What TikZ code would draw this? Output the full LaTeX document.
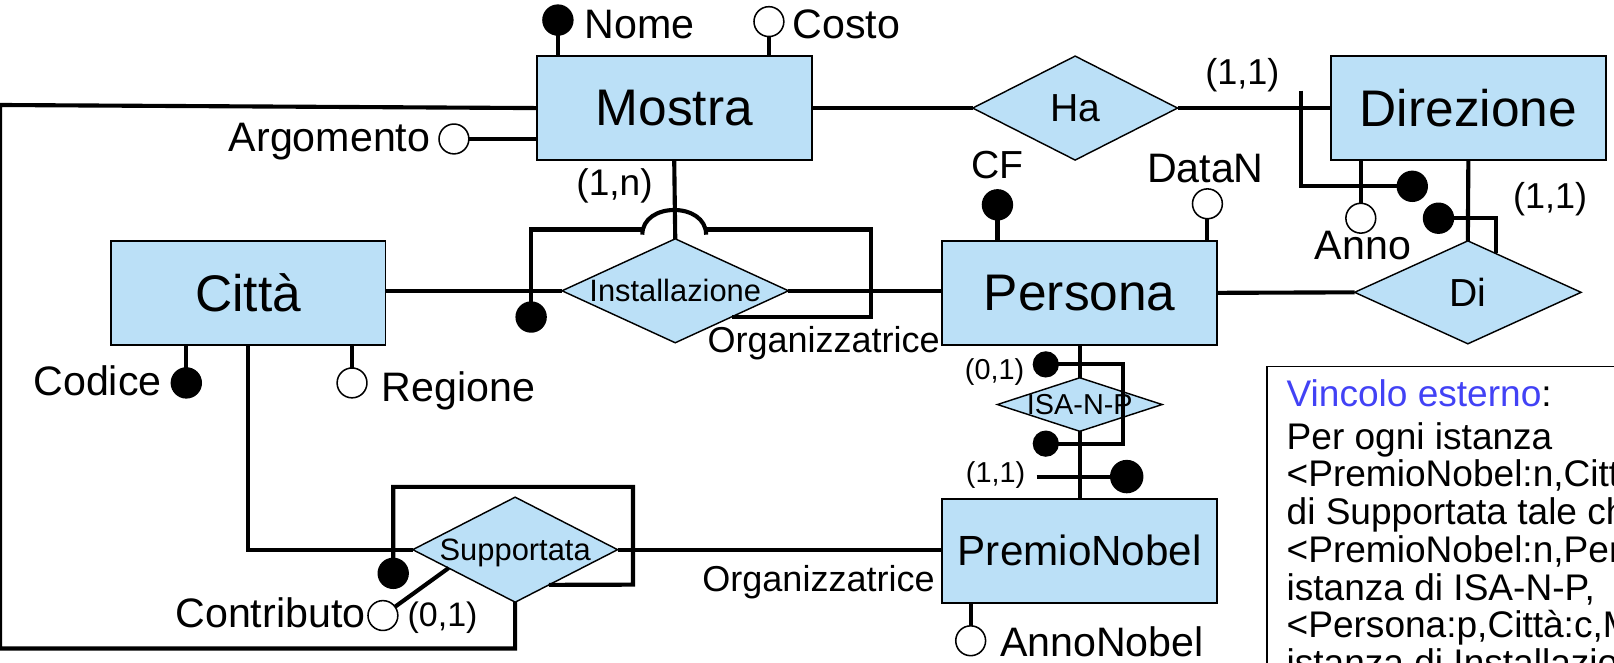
\documentclass[tikz,border=0pt]{standalone}
\usepackage{fontspec}
\setmainfont{Liberation Sans}
\usetikzlibrary{shapes.geometric,calc}
\definecolor{erfill}{RGB}{187,224,247}
\definecolor{noteblue}{RGB}{66,66,245}
\newcommand\sz[1]{\fontsize{#1pt}{#1pt}\selectfont}
\begin{document}
\begin{tikzpicture}[x=1pt,y=-1pt,
  every node/.style={inner sep=0pt,outer sep=0pt},
  link/.style={line width=4pt},
  entity/.style={draw=black,line width=1.8pt,fill=erfill,minimum width=267pt,minimum height=101pt,font=\sz{50}},
  rel/.style={diamond,draw=black,line width=1.4pt,fill=erfill,text depth=0pt},
  keydot/.style={circle,draw=black,fill=black,line width=1.5pt,minimum size=29pt},
  attdot/.style={circle,draw=black,fill=white,line width=1.5pt,minimum size=29pt},
  lbl/.style={font=\sz{40}},
  card/.style={font=\sz{35}},
  note/.style={anchor=base west,font=\sz{36}}]
\useasboundingbox (0,0) rectangle (1568,644);

% entities
\node[entity] (Mostra) at (655,105) {Mostra};
\node[entity] (Citta) at (241,284.5) {Città};
\node[entity] (Persona) at (1049,284.5) {Persona};
\node[entity,font=\sz{41}] (Nobel) at (1049,535) {PremioNobel};
\node[entity] (Dir) at (1426.5,105) {Direzione};

% relationships
\node[rel,minimum width=199pt,minimum height=101pt,font=\sz{38}] (Ha) at (1044.5,105) {\makebox[0pt]{Ha}};
\node[rel,minimum width=220pt,minimum height=100pt,font=\sz{38}] (Di) at (1426,284) {\makebox[0pt]{Di}};
\node[rel,minimum width=220pt,minimum height=101pt,font=\sz{30}] (Inst) at (656,282.5) {\makebox[0pt]{Installazione}};
\node[rel,minimum width=199pt,minimum height=102pt,font=\sz{30}] (Supp) at (500.5,534) {\makebox[0pt]{Supportata}};
\node[rel,minimum width=160pt,minimum height=52pt,font=\sz{28}] (Isa) at (1049,393) {\makebox[0pt]{ISA-N-P}};

% participations
\draw[link] (Mostra.east) -- (Ha.west);
\draw[link] (Ha.east) -- (Dir.west);
\draw[link] (Inst.west -| Citta.east) -- (Inst.west);
\draw[link] (Inst.east) -- (Inst.east -| Persona.west);
\draw[link] (Mostra.south) -- (Inst.north);
\draw[link] (Persona.east) -- (Di.west);
\draw[link] (Dir.south) -- (Di.north);
\draw[link] (Persona.south) -- (Isa.north);
\draw[link] (Isa.south) -- (Nobel.north);
\draw[link] (Supp.east) -- (Supp.east -| Nobel.west);
\draw[link] (Citta.south) |- (Supp.west);
\coordinate (outerBL) at (0,630);
\coordinate (outerTL) at (0,102);
\draw[link] (Supp.south) |- (outerBL) -- (outerTL) -- (Mostra.west);

% attributes
\node[keydot] (nomeC) at (542,19.5) {};
\draw[link] (nomeC) -- (nomeC |- Mostra.north);
\node[lbl,anchor=base west] (nomeL) at (568,37) {Nome};
\node[attdot] (costoC) at (747,21) {};
\draw[link] (costoC) -- (costoC |- Mostra.north);
\node[lbl,anchor=base west] (costoL) at (770,37) {Costo};
\node[attdot] (argC) at (441,135) {};
\draw[link] (argC) -- (argC -| Mostra.west);
\node[lbl,anchor=base east] (argL) at (418,147.5) {Argomento};

\node[keydot] (cfC) at (969,199) {};
\draw[link] (cfC) -- (cfC |- Persona.north);
\node[lbl,anchor=base,font=\sz{38}] (cfL) at (969,173) {CF};
\node[attdot] (dataC) at (1173,198) {};
\draw[link] (dataC) -- (dataC |- Persona.north);
\node[lbl,anchor=base] (dataL) at (1171,177) {DataN};

\node[attdot] (annoC) at (1322,212) {};
\draw[link] (annoC |- Dir.south) -- (annoC);
\node[lbl,anchor=base] (annoL) at (1324,252) {Anno};

\node[keydot] (codC) at (181,372) {};
\draw[link] (codC |- Citta.south) -- (codC);
\node[lbl,anchor=base east] (codL) at (157,384) {Codice};
\node[attdot] (regC) at (342,372) {};
\draw[link] (regC |- Citta.south) -- (regC);
\node[lbl,anchor=base west] (regL) at (371,390) {Regione};

\node[attdot] (anC) at (943,622.5) {};
\draw[link] (anC |- Nobel.south) -- (anC);
\node[lbl,anchor=base west] (anL) at (971.5,638) {AnnoNobel};

\node[attdot] (contrC) at (372,598) {};
\draw[link] (contrC) -- ($(Supp.west)!0.35!(Supp.south)$);
\node[lbl,anchor=base east] (contrL) at (355,610) {Contributo};

% external identifiers
\node[keydot] (instK) at (516,308) {};
\coordinate (instTL) at (516,223);
\coordinate (hopL) at (624,223);
\coordinate (hopR) at (686,223);
\coordinate (instTR) at (846,223);
\draw[link] (instK) -- (instTL) -- (hopL);
\draw[link] ([yshift=-5pt]hopL) .. controls ([yshift=27pt]hopL) and ([yshift=27pt]hopR) .. ([yshift=-5pt]hopR);
\draw[link] (hopR) -- (instTR) |- ($(Inst.east)!0.5!(Inst.south)$);

\node[keydot] (suppK) at (382,557) {};
\coordinate (suppTL) at (382,473);
\coordinate (suppBR) at (615,568);
\draw[link] (suppK) -- (suppTL) -| (suppBR) -- ($(Supp.east)!0.67!(Supp.south)$);

\node[keydot] (dirK) at (1372,181) {};
\coordinate (dirTick) at (1264,88);
\draw[link] (dirTick) |- (dirK);

\node[keydot] (diK) at (1397.5,212) {};
\draw[link] (diK) -| ($(Di.north)!0.245!(Di.east)$);

\node[keydot,minimum size=24pt] (isaK1) at (1016,354) {};
\node[keydot,minimum size=24pt] (isaK2) at (1016,431) {};
\coordinate (isaTR) at (1091,354);
\coordinate (isaBR) at (1091,431);
\draw[link] (isaK1) -- (isaTR) -- (isaBR) -- (isaK2);
\node[keydot,minimum size=31pt] (nobK) at (1094.6,463) {};
\coordinate (nobTick) at (1007,463);
\draw[link] (nobTick) -- (nobK);

% cardinalities and roles
\node[card,anchor=base,font=\sz{36}] (cMostra) at (597,190) {(1,n)};
\node[card,anchor=base] (cHa) at (1207,82) {(1,1)};
\node[card,anchor=base] (cDi) at (1506,203) {(1,1)};
\node[card,anchor=base east,font=\sz{28}] (cIsa1) at (995,369) {(0,1)};
\node[card,anchor=base east,font=\sz{28}] (cIsa2) at (996,469) {(1,1)};
\node[card,anchor=base west,font=\sz{33}] (cContr) at (396,608.5) {(0,1)};
\node[lbl,anchor=base east,font=\sz{35}] (org1) at (913,342) {Organizzatrice};
\node[lbl,anchor=base east,font=\sz{35}] (org2) at (908,575) {Organizzatrice};

% constraint note
\draw[line width=1.6pt] (1231,356) rectangle (1660,720);
\node[note] (n0) at (1250,395) {\textcolor{noteblue}{Vincolo esterno}:};
\node[note] (n1) at (1250,437) {Per ogni istanza};
\node[note] (n2) at (1250,473) {<PremioNobel:n,Città:c,M};
\node[note] (n3) at (1250,510) {di Supportata tale che};
\node[note] (n4) at (1250,546) {<PremioNobel:n,Persona:p>};
\node[note] (n5) at (1250,583) {istanza di ISA-N-P,};
\node[note] (n6) at (1250,619) {<Persona:p,Città:c,M};
\node[note] (n7) at (1250,656) {istanza di Installazione};
\end{tikzpicture}
\end{document}
